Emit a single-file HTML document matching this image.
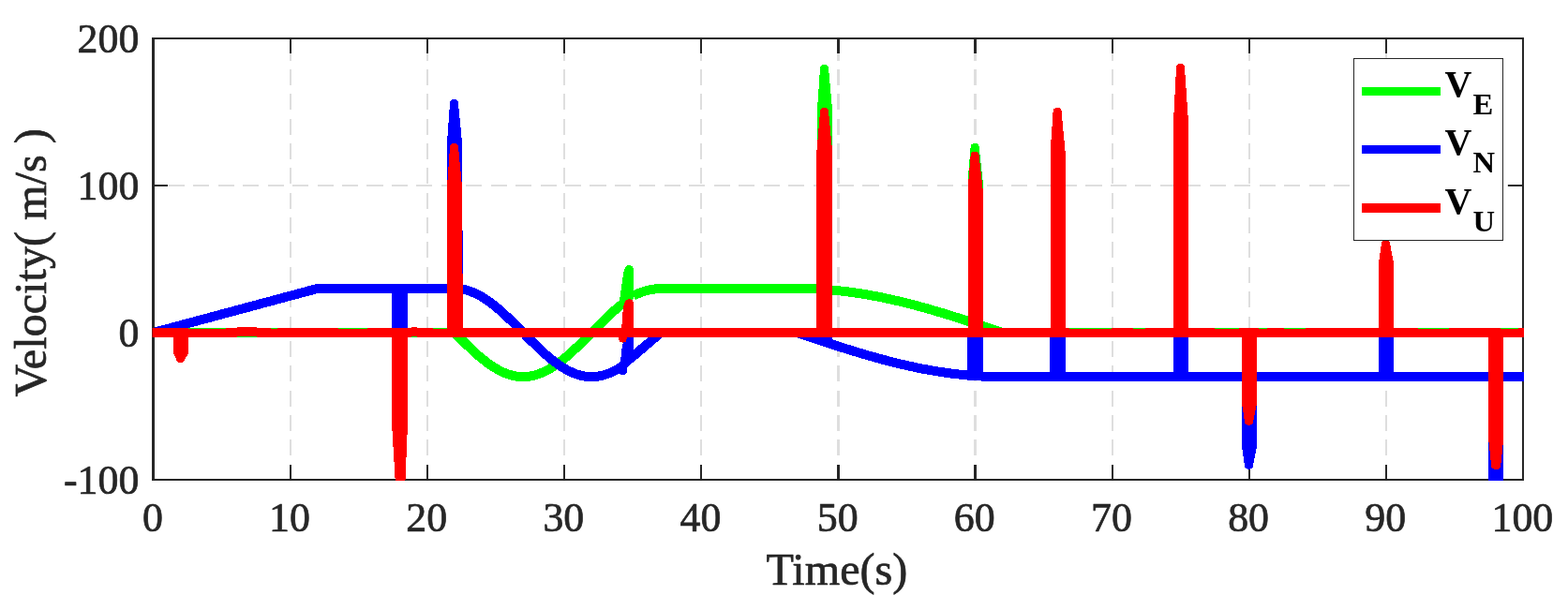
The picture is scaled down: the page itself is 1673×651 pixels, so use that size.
<!DOCTYPE html>
<html lang="en">
<head>
<meta charset="utf-8">
<title>Velocity vs Time</title>
<style>
html,body{margin:0;padding:0;background:#fff;}
body{width:1673px;height:651px;overflow:hidden;}
svg{display:block;}
</style>
</head>
<body>
<svg width="1673" height="651" viewBox="0 0 1673 651">
<defs><clipPath id="ax"><rect x="162.5" y="40" width="1463.5" height="473"/></clipPath></defs>
<rect x="0" y="0" width="1673" height="651" fill="#ffffff"/>
<g stroke="#dedede" fill="none" shape-rendering="crispEdges">
<path stroke-width="2" stroke-dasharray="17 9.37" d="M310 512.8 V41"/>
<path stroke-width="2" stroke-dasharray="17 9.37" d="M456 512.8 V41"/>
<path stroke-width="2" stroke-dasharray="17 9.37" d="M602 512.8 V41"/>
<path stroke-width="2" stroke-dasharray="17 9.37" d="M748 512.8 V41"/>
<path stroke-width="3" stroke-dasharray="17 9.37" d="M894.5 512.8 V41"/>
<path stroke-width="3" stroke-dasharray="17 9.37" d="M1040.5 512.8 V41"/>
<path stroke-width="2" stroke-dasharray="17 9.37" d="M1187 512.8 V41"/>
<path stroke-width="2" stroke-dasharray="17 9.37" d="M1333 512.8 V41"/>
<path stroke-width="2" stroke-dasharray="17 9.37" d="M1479 512.8 V41"/>
<path stroke-width="2" stroke-dasharray="17.1 9.35" stroke-dashoffset="11.65" d="M165 198 H1624"/>
<path stroke-width="2" stroke-dasharray="17.1 9.35" stroke-dashoffset="11.65" d="M165 355 H1624"/>
</g>
<g fill="#262626" shape-rendering="crispEdges">
<rect x="162" y="40" width="3" height="473"/>
<rect x="1624" y="40" width="2" height="473"/>
<rect x="162" y="40" width="1464" height="2"/>
<rect x="162" y="511" width="1464" height="2"/>
<rect x="309" y="496" width="2" height="15"/>
<rect x="309" y="42" width="2" height="15"/>
<rect x="455" y="496" width="2" height="15"/>
<rect x="455" y="42" width="2" height="15"/>
<rect x="601" y="496" width="2" height="15"/>
<rect x="601" y="42" width="2" height="15"/>
<rect x="747" y="496" width="2" height="15"/>
<rect x="747" y="42" width="2" height="15"/>
<rect x="893" y="496" width="3" height="15"/>
<rect x="893" y="42" width="3" height="15"/>
<rect x="1039" y="496" width="3" height="15"/>
<rect x="1039" y="42" width="3" height="15"/>
<rect x="1186" y="496" width="2" height="15"/>
<rect x="1186" y="42" width="2" height="15"/>
<rect x="1332" y="496" width="2" height="15"/>
<rect x="1332" y="42" width="2" height="15"/>
<rect x="1478" y="496" width="2" height="15"/>
<rect x="1478" y="42" width="2" height="15"/>
<rect x="165" y="197" width="14" height="2"/>
<rect x="1609" y="197" width="15" height="2"/>
<rect x="165" y="354" width="14" height="2"/>
<rect x="1609" y="354" width="15" height="2"/>
</g>
<g clip-path="url(#ax)" shape-rendering="crispEdges">
<g fill="none" stroke="#00ff00" stroke-width="10" stroke-linejoin="round">
<path d="M163.5 355 L164.96 355 L166.42 355 L167.88 355 L169.35 355 L170.81 355 L172.27 355 L173.73 355 L175.19 355 L176.65 355 L178.12 355 L179.58 355 L181.04 355 L182.5 355 L183.96 355 L185.42 355 L186.88 355 L188.35 355 L189.81 355 L191.27 355 L192.73 355 L194.19 355 L195.65 355 L197.11 355 L198.58 355 L200.04 355 L201.5 355 L202.96 355 L204.42 355 L205.88 355 L207.34 355 L208.81 355 L210.27 355 L211.73 355 L213.19 355 L214.65 355 L216.11 355 L217.58 355 L219.04 355 L220.5 355 L221.96 355 L223.42 355 L224.88 355 L226.34 355 L227.81 355 L229.27 355 L230.73 355 L232.19 355 L233.65 355 L235.11 355 L236.57 355 L238.04 355 L239.5 355 L240.96 355 L242.42 355 L243.88 355 L245.34 355 L246.81 355 L248.27 355 L249.73 355 L251.19 355 L252.65 355 L254.11 355 L255.57 355 L257.04 355 L258.5 355 L259.96 355 L261.42 355 L262.88 355 L264.34 355 L265.81 355 L267.27 355 L268.73 355 L270.19 355 L271.65 355 L273.11 355 L274.57 355 L276.04 355 L277.5 355 L278.96 355 L280.42 355 L281.88 355 L283.34 355 L284.8 355 L286.27 355 L287.73 355 L289.19 355 L290.65 355 L292.11 355 L293.57 355 L295.03 355 L296.5 355 L297.96 355 L299.42 355 L300.88 355 L302.34 355 L303.8 355 L305.27 355 L306.73 355 L308.19 355 L309.65 355 L311.11 355 L312.57 355 L314.03 355 L315.5 355 L316.96 355 L318.42 355 L319.88 355 L321.34 355 L322.8 355 L324.26 355 L325.73 355 L327.19 355 L328.65 355 L330.11 355 L331.57 355 L333.03 355 L334.5 355 L335.96 355 L337.42 355 L338.88 355 L340.34 355 L341.8 355 L343.26 355 L344.73 355 L346.19 355 L347.65 355 L349.11 355 L350.57 355 L352.03 355 L353.5 355 L354.96 355 L356.42 355 L357.88 355 L359.34 355 L360.8 355 L362.26 355 L363.73 355 L365.19 355 L366.65 355 L368.11 355 L369.57 355 L371.03 355 L372.49 355 L373.96 355 L375.42 355 L376.88 355 L378.34 355 L379.8 355 L381.26 355 L382.73 355 L384.19 355 L385.65 355 L387.11 355 L388.57 355 L390.03 355 L391.49 355 L392.96 355 L394.42 355 L395.88 355 L397.34 355 L398.8 355 L400.26 355 L401.72 355 L403.19 355 L404.65 355 L406.11 355 L407.57 355 L409.03 355 L410.49 355 L411.95 355 L413.42 355 L414.88 355 L416.34 355 L417.8 355 L419.26 355 L420.72 355 L422.19 355 L423.65 355 L425.11 355 L426.57 355 L428.03 355 L429.49 355 L430.95 355 L432.42 355 L433.88 355 L435.34 355 L436.8 355 L438.26 355 L439.72 355 L441.18 355 L442.65 355 L444.11 355 L445.57 355 L447.03 355 L448.49 355 L449.95 355 L451.42 355 L452.88 355 L454.34 355 L455.8 355 L457.26 355 L458.72 355 L460.18 355 L461.65 355 L463.11 355 L464.57 355 L466.03 355 L467.49 355 L468.95 355 L470.41 355 L471.88 355 L473.34 355 L474.8 355 L476.26 355 L477.72 355 L479.18 355 L480.65 355 L482.11 355 L483.57 355 L485.03 355 L486.49 356.48 L487.95 357.96 L489.41 359.43 L490.88 360.9 L492.34 362.37 L493.8 363.83 L495.26 365.27 L496.72 366.71 L498.18 368.14 L499.64 369.55 L501.11 370.95 L502.57 372.34 L504.03 373.71 L505.49 375.05 L506.95 376.38 L508.41 377.69 L509.88 378.98 L511.34 380.24 L512.8 381.47 L514.26 382.68 L515.72 383.87 L517.18 385.02 L518.64 386.15 L520.11 387.24 L521.57 388.3 L523.03 389.33 L524.49 390.33 L525.95 391.29 L527.41 392.22 L528.88 393.1 L530.34 393.96 L531.8 394.77 L533.26 395.54 L534.72 396.27 L536.18 396.97 L537.64 397.62 L539.11 398.23 L540.57 398.79 L542.03 399.32 L543.49 399.79 L544.95 400.23 L546.41 400.62 L547.87 400.97 L549.34 401.27 L550.8 401.52 L552.26 401.73 L553.72 401.89 L555.18 402.01 L556.64 402.08 L558.11 402.1 L559.57 402.08 L561.03 402.01 L562.49 401.89 L563.95 401.73 L565.41 401.52 L566.87 401.27 L568.34 400.97 L569.8 400.62 L571.26 400.23 L572.72 399.79 L574.18 399.32 L575.64 398.79 L577.1 398.23 L578.57 397.62 L580.03 396.97 L581.49 396.27 L582.95 395.54 L584.41 394.77 L585.87 393.96 L587.34 393.1 L588.8 392.22 L590.26 391.29 L591.72 390.33 L593.18 389.33 L594.64 388.3 L596.1 387.24 L597.57 386.15 L599.03 385.02 L600.49 383.87 L601.95 382.68 L603.41 381.47 L604.87 380.24 L606.33 378.98 L607.8 377.69 L609.26 376.38 L610.72 375.05 L612.18 373.71 L613.64 372.34 L615.1 370.95 L616.57 369.55 L618.03 368.14 L619.49 366.71 L620.95 365.27 L622.41 363.83 L623.87 362.37 L625.33 360.9 L626.8 359.43 L628.26 357.96 L629.72 356.48 L631.18 355 L632.64 353.52 L634.1 352.04 L635.56 350.57 L637.03 349.1 L638.49 347.63 L639.95 346.17 L641.41 344.73 L642.87 343.29 L644.33 341.86 L645.79 340.45 L647.26 339.05 L648.72 337.66 L650.18 336.29 L651.64 334.95 L653.1 333.62 L654.56 332.31 L656.03 331.02 L657.49 329.76 L658.95 328.53 L660.41 327.32 L661.87 326.13 L663.33 324.98 L664.79 323.85 L665.53 322.81"/>
<path d="M675.76 315.75 L676.58 315.32 L677.4 314.91 L678.22 314.51 L679.04 314.13 L679.87 313.75 L680.69 313.39 L681.51 313.04 L682.33 312.7 L683.15 312.38 L683.98 312.07 L684.8 311.77 L685.62 311.48 L686.44 311.21 L687.27 310.94 L688.09 310.69 L688.91 310.45 L689.73 310.22 L690.55 310.01 L691.38 309.8 L692.2 309.61 L693.02 309.43 L693.84 309.25 L694.66 309.09 L695.49 308.95 L696.31 308.81 L697.13 308.68 L697.95 308.56 L698.77 308.46 L699.6 308.36 L700.42 308.27 L701.24 308.19 L702.06 308.13 L702.88 308.07 L703.71 308.02 L704.53 307.98 L705.35 307.95 L706.17 307.93 L707 307.91 L707.82 307.9 L708.64 307.9 L708.64 307.9 L710.1 307.9 L711.56 307.9 L713.02 307.9 L714.48 307.9 L715.94 307.9 L717.39 307.9 L718.85 307.9 L720.31 307.9 L721.77 307.9 L723.23 307.9 L724.69 307.9 L726.15 307.9 L727.61 307.9 L729.07 307.9 L730.53 307.9 L731.99 307.9 L733.45 307.9 L734.9 307.9 L736.36 307.9 L737.82 307.9 L739.28 307.9 L740.74 307.9 L742.2 307.9 L743.66 307.9 L745.12 307.9 L746.58 307.9 L748.04 307.9 L749.5 307.9 L750.96 307.9 L752.41 307.9 L753.87 307.9 L755.33 307.9 L756.79 307.9 L758.25 307.9 L759.71 307.9 L761.17 307.9 L762.63 307.9 L764.09 307.9 L765.55 307.9 L767.01 307.9 L768.47 307.9 L769.93 307.9 L771.38 307.9 L772.84 307.9 L774.3 307.9 L775.76 307.9 L777.22 307.9 L778.68 307.9 L780.14 307.9 L781.6 307.9 L783.06 307.9 L784.52 307.9 L785.98 307.9 L787.44 307.9 L788.89 307.9 L790.35 307.9 L791.81 307.9 L793.27 307.9 L794.73 307.9 L796.19 307.9 L797.65 307.9 L799.11 307.9 L800.57 307.9 L802.03 307.9 L803.49 307.9 L804.95 307.9 L806.4 307.9 L807.86 307.9 L809.32 307.9 L810.78 307.9 L812.24 307.9 L813.7 307.9 L815.16 307.9 L816.62 307.9 L818.08 307.9 L819.54 307.9 L821 307.9 L822.46 307.9 L823.91 307.9 L825.37 307.9 L826.83 307.9 L828.29 307.9 L829.75 307.9 L831.21 307.9 L832.67 307.9 L834.13 307.9 L835.59 307.9 L837.05 307.9 L838.51 307.9 L839.97 307.9 L841.42 307.9 L842.88 307.9 L844.34 307.9 L845.8 307.9 L847.26 307.9 L848.72 307.9 L850.18 307.9 L851.64 307.9 L853.1 307.91 L854.56 307.92 L856.02 307.94 L857.48 307.96 L858.94 307.99 L860.39 308.02 L861.85 308.06 L863.31 308.1 L864.77 308.15 L866.23 308.2 L867.69 308.26 L869.15 308.32 L870.61 308.39 L872.07 308.47 L873.53 308.54 L874.99 308.63 L876.45 308.72 L877.9 308.81 L879.36 308.91 L880.82 309.01 L882.28 309.12 L883.74 309.24 L885.2 309.36 L886.66 309.48 L888.12 309.61 L889.58 309.74 L891.04 309.88 L892.5 310.03 L893.96 310.17 L895.41 310.33 L896.87 310.49 L898.33 310.65 L899.79 310.82 L901.25 310.99 L902.71 311.17 L904.17 311.35 L905.63 311.54 L907.09 311.73 L908.55 311.93 L910.01 312.13 L911.47 312.34 L912.92 312.55 L914.38 312.76 L915.84 312.98 L917.3 313.21 L918.76 313.44 L920.22 313.67 L921.68 313.91 L923.14 314.15 L924.6 314.4 L926.06 314.65 L927.52 314.91 L928.98 315.17 L930.43 315.43 L931.89 315.7 L933.35 315.98 L934.81 316.25 L936.27 316.54 L937.73 316.82 L939.19 317.11 L940.65 317.41 L942.11 317.71 L943.57 318.01 L945.03 318.32 L946.49 318.63 L947.95 318.94 L949.4 319.26 L950.86 319.58 L952.32 319.91 L953.78 320.24 L955.24 320.58 L956.7 320.91 L958.16 321.25 L959.62 321.6 L961.08 321.95 L962.54 322.3 L964 322.66 L965.46 323.02 L966.91 323.38 L968.37 323.75 L969.83 324.12 L971.29 324.49 L972.75 324.87 L974.21 325.25 L975.67 325.63 L977.13 326.02 L978.59 326.41 L980.05 326.8 L981.51 327.2 L982.97 327.6 L984.42 328 L985.88 328.4 L987.34 328.81 L988.8 329.22 L990.26 329.64 L991.72 330.05 L993.18 330.47 L994.64 330.89 L996.1 331.32 L997.56 331.74 L999.02 332.17 L1000.48 332.6 L1001.93 333.04 L1003.39 333.48 L1004.85 333.92 L1006.31 334.36 L1007.77 334.8 L1009.23 335.25 L1010.69 335.69 L1012.15 336.14 L1013.61 336.6 L1015.07 337.05 L1016.53 337.51 L1017.99 337.97 L1019.44 338.43 L1020.9 338.89 L1022.36 339.35 L1023.82 339.82 L1025.28 340.28 L1026.74 340.75 L1028.2 341.22 L1029.66 341.69 L1031.12 342.17 L1032.58 342.64 L1034.04 343.12 L1035.5 343.59 L1036.96 344.07 L1038.41 344.55 L1039.87 345.03 L1041.33 345.52 L1042.79 346 L1044.25 346.48 L1045.71 346.97 L1047.17 347.45 L1048.63 347.94 L1050.09 348.43 L1051.55 348.91 L1053.01 349.4 L1054.47 349.89 L1055.92 350.38 L1057.38 350.87 L1058.84 351.36 L1060.3 351.85 L1061.76 352.35 L1063.22 352.84 L1064.68 353.33 L1066.14 353.82 L1067.6 354.31 L1069.06 354.81 L1070.52 355 L1071.98 355 L1073.43 355 L1074.89 355 L1076.35 355 L1077.81 355 L1079.27 355 L1080.73 355 L1082.19 355 L1083.65 355 L1085.11 355 L1086.57 355 L1088.03 355 L1089.49 355 L1090.94 355 L1092.4 355 L1093.86 355 L1095.32 355 L1096.78 355 L1098.24 355 L1099.7 355 L1101.16 355 L1102.62 355 L1104.08 355 L1105.54 355 L1107 355 L1108.45 355 L1109.91 355 L1111.37 355 L1112.83 355 L1114.29 355 L1115.75 355 L1117.21 355 L1118.67 355 L1120.13 355 L1121.59 355 L1123.05 355 L1124.51 355 L1125.97 355 L1127.42 355 L1128.88 355 L1130.34 355 L1131.8 355 L1133.26 355 L1134.72 355 L1136.18 355 L1137.64 355 L1139.1 355 L1140.56 355 L1142.02 355 L1143.48 355 L1144.93 355 L1146.39 355 L1147.85 355 L1149.31 355 L1150.77 355 L1152.23 355 L1153.69 355 L1155.15 355 L1156.61 355 L1158.07 355 L1159.53 355 L1160.99 355 L1162.44 355 L1163.9 355 L1165.36 355 L1166.82 355 L1168.28 355 L1169.74 355 L1171.2 355 L1172.66 355 L1174.12 355 L1175.58 355 L1177.04 355 L1178.5 355 L1179.95 355 L1181.41 355 L1182.87 355 L1184.33 355 L1185.79 355 L1187.25 355 L1188.71 355 L1190.17 355 L1191.63 355 L1193.09 355 L1194.55 355 L1196.01 355 L1197.46 355 L1198.92 355 L1200.38 355 L1201.84 355 L1203.3 355 L1204.76 355 L1206.22 355 L1207.68 355 L1209.14 355 L1210.6 355 L1212.06 355 L1213.52 355 L1214.98 355 L1216.43 355 L1217.89 355 L1219.35 355 L1220.81 355 L1222.27 355 L1223.73 355 L1225.19 355 L1226.65 355 L1228.11 355 L1229.57 355 L1231.03 355 L1232.49 355 L1233.94 355 L1235.4 355 L1236.86 355 L1238.32 355 L1239.78 355 L1241.24 355 L1242.7 355 L1244.16 355 L1245.62 355 L1247.08 355 L1248.54 355 L1250 355 L1251.45 355 L1252.91 355 L1254.37 355 L1255.83 355 L1257.29 355 L1258.75 355 L1260.21 355 L1261.67 355 L1263.13 355 L1264.59 355 L1266.05 355 L1267.51 355 L1268.96 355 L1270.42 355 L1271.88 355 L1273.34 355 L1274.8 355 L1276.26 355 L1277.72 355 L1279.18 355 L1280.64 355 L1282.1 355 L1283.56 355 L1285.02 355 L1286.47 355 L1287.93 355 L1289.39 355 L1290.85 355 L1292.31 355 L1293.77 355 L1295.23 355 L1296.69 355 L1298.15 355 L1299.61 355 L1301.07 355 L1302.53 355 L1303.99 355 L1305.44 355 L1306.9 355 L1308.36 355 L1309.82 355 L1311.28 355 L1312.74 355 L1314.2 355 L1315.66 355 L1317.12 355 L1318.58 355 L1320.04 355 L1321.5 355 L1322.95 355 L1324.41 355 L1325.87 355 L1327.33 355 L1328.79 355 L1330.25 355 L1331.71 355 L1333.17 355 L1334.63 355 L1336.09 355 L1337.55 355 L1339.01 355 L1340.46 355 L1341.92 355 L1343.38 355 L1344.84 355 L1346.3 355 L1347.76 355 L1349.22 355 L1350.68 355 L1352.14 355 L1353.6 355 L1355.06 355 L1356.52 355 L1357.97 355 L1359.43 355 L1360.89 355 L1362.35 355 L1363.81 355 L1365.27 355 L1366.73 355 L1368.19 355 L1369.65 355 L1371.11 355 L1372.57 355 L1374.03 355 L1375.48 355 L1376.94 355 L1378.4 355 L1379.86 355 L1381.32 355 L1382.78 355 L1384.24 355 L1385.7 355 L1387.16 355 L1388.62 355 L1390.08 355 L1391.54 355 L1392.99 355 L1394.45 355 L1395.91 355 L1397.37 355 L1398.83 355 L1400.29 355 L1401.75 355 L1403.21 355 L1404.67 355 L1406.13 355 L1407.59 355 L1409.05 355 L1410.51 355 L1411.96 355 L1413.42 355 L1414.88 355 L1416.34 355 L1417.8 355 L1419.26 355 L1420.72 355 L1422.18 355 L1423.64 355 L1425.1 355 L1426.56 355 L1428.02 355 L1429.47 355 L1430.93 355 L1432.39 355 L1433.85 355 L1435.31 355 L1436.77 355 L1438.23 355 L1439.69 355 L1441.15 355 L1442.61 355 L1444.07 355 L1445.53 355 L1446.98 355 L1448.44 355 L1449.9 355 L1451.36 355 L1452.82 355 L1454.28 355 L1455.74 355 L1457.2 355 L1458.66 355 L1460.12 355 L1461.58 355 L1463.04 355 L1464.49 355 L1465.95 355 L1467.41 355 L1468.87 355 L1470.33 355 L1471.79 355 L1473.25 355 L1474.71 355 L1476.17 355 L1477.63 355 L1479.09 355 L1480.55 355 L1482 355 L1483.46 355 L1484.92 355 L1486.38 355 L1487.84 355 L1489.3 355 L1490.76 355 L1492.22 355 L1493.68 355 L1495.14 355 L1496.6 355 L1498.06 355 L1499.52 355 L1500.97 355 L1502.43 355 L1503.89 355 L1505.35 355 L1506.81 355 L1508.27 355 L1509.73 355 L1511.19 355 L1512.65 355 L1514.11 355 L1515.57 355 L1517.03 355 L1518.48 355 L1519.94 355 L1521.4 355 L1522.86 355 L1524.32 355 L1525.78 355 L1527.24 355 L1528.7 355 L1530.16 355 L1531.62 355 L1533.08 355 L1534.54 355 L1535.99 355 L1537.45 355 L1538.91 355 L1540.37 355 L1541.83 355 L1543.29 355 L1544.75 355 L1546.21 355 L1547.67 355 L1549.13 355 L1550.59 355 L1552.05 355 L1553.5 355 L1554.96 355 L1556.42 355 L1557.88 355 L1559.34 355 L1560.8 355 L1562.26 355 L1563.72 355 L1565.18 355 L1566.64 355 L1568.1 355 L1569.56 355 L1571.01 355 L1572.47 355 L1573.93 355 L1575.39 355 L1576.85 355 L1578.31 355 L1579.77 355 L1581.23 355 L1582.69 355 L1584.15 355 L1585.61 355 L1587.07 355 L1588.53 355 L1589.98 355 L1591.44 355 L1592.9 355 L1594.36 355 L1595.82 355 L1597.28 355 L1598.74 355 L1600.2 355 L1601.66 355 L1603.12 355 L1604.58 355 L1606.04 355 L1607.49 355 L1608.95 355 L1610.41 355 L1611.87 355 L1613.33 355 L1614.79 355 L1616.25 355 L1617.71 355 L1619.17 355 L1620.63 355 L1622.09 355 L1623.55 355 L1625 355 L1626.46 355 L1627.92 355"/>
</g>
<g fill="#00ff00">
<path d="M660.6 323 L664 300 Q665.5 283 671 283 Q676 283 676 289 L676 318 L664 330Z"/>
<path d="M872 312.9 L872 116.6 L875.1 71.8 C875.1 70.04 877.52 68.6 879.5 68.6 C881.48 68.6 883.9 70.04 883.9 71.8 L888 116.6 L888 312.9Z"/>
<path d="M1032.6 355 L1032.6 192.8 L1035.7 156 C1035.7 154.24 1038.12 152.8 1040.1 152.8 C1042.08 152.8 1044.5 154.24 1044.5 156 L1048.6 192.8 L1048.6 355Z"/>
</g>
<g fill="none" stroke="#0000ff" stroke-width="10" stroke-linejoin="round">
<path d="M163.5 355 L164.96 354.61 L166.42 354.21 L167.88 353.82 L169.35 353.43 L170.81 353.04 L172.27 352.64 L173.73 352.25 L175.19 351.86 L176.65 351.47 L178.12 351.07 L179.58 350.68 L181.04 350.29 L182.5 349.9 L183.96 349.5 L185.42 349.11 L186.88 348.72 L188.35 348.33 L189.81 347.94 L191.27 347.54 L192.73 347.15 L194.19 346.76 L195.65 346.37 L197.11 345.97 L198.58 345.58 L200.04 345.19 L201.5 344.8 L202.96 344.4 L204.42 344.01 L205.88 343.62 L207.34 343.23 L208.81 342.83 L210.27 342.44 L211.73 342.05 L213.19 341.65 L214.65 341.26 L216.11 340.87 L217.58 340.48 L219.04 340.08 L220.5 339.69 L221.96 339.3 L223.42 338.91 L224.88 338.51 L226.34 338.12 L227.81 337.73 L229.27 337.34 L230.73 336.94 L232.19 336.55 L233.65 336.16 L235.11 335.77 L236.57 335.38 L238.04 334.98 L239.5 334.59 L240.96 334.2 L242.42 333.81 L243.88 333.41 L245.34 333.02 L246.81 332.63 L248.27 332.24 L249.73 331.84 L251.19 331.45 L252.65 331.06 L254.11 330.67 L255.57 330.27 L257.04 329.88 L258.5 329.49 L259.96 329.1 L261.42 328.7 L262.88 328.31 L264.34 327.92 L265.81 327.52 L267.27 327.13 L268.73 326.74 L270.19 326.35 L271.65 325.95 L273.11 325.56 L274.57 325.17 L276.04 324.78 L277.5 324.38 L278.96 323.99 L280.42 323.6 L281.88 323.21 L283.34 322.81 L284.8 322.42 L286.27 322.03 L287.73 321.64 L289.19 321.25 L290.65 320.85 L292.11 320.46 L293.57 320.07 L295.03 319.68 L296.5 319.28 L297.96 318.89 L299.42 318.5 L300.88 318.11 L302.34 317.71 L303.8 317.32 L305.27 316.93 L306.73 316.54 L308.19 316.14 L309.65 315.75 L311.11 315.36 L312.57 314.96 L314.03 314.57 L315.5 314.18 L316.96 313.79 L318.42 313.39 L319.88 313 L321.34 312.61 L322.8 312.22 L324.26 311.82 L325.73 311.43 L327.19 311.04 L328.65 310.65 L330.11 310.25 L331.57 309.86 L333.03 309.47 L334.5 309.08 L335.96 308.69 L337.42 308.29 L338.88 307.9 L340.34 307.9 L341.8 307.9 L343.26 307.9 L344.73 307.9 L346.19 307.9 L347.65 307.9 L349.11 307.9 L350.57 307.9 L352.03 307.9 L353.5 307.9 L354.96 307.9 L356.42 307.9 L357.88 307.9 L359.34 307.9 L360.8 307.9 L362.26 307.9 L363.73 307.9 L365.19 307.9 L366.65 307.9 L368.11 307.9 L369.57 307.9 L371.03 307.9 L372.49 307.9 L373.96 307.9 L375.42 307.9 L376.88 307.9 L378.34 307.9 L379.8 307.9 L381.26 307.9 L382.73 307.9 L384.19 307.9 L385.65 307.9 L387.11 307.9 L388.57 307.9 L390.03 307.9 L391.49 307.9 L392.96 307.9 L394.42 307.9 L395.88 307.9 L397.34 307.9 L398.8 307.9 L400.26 307.9 L401.72 307.9 L403.19 307.9 L404.65 307.9 L406.11 307.9 L407.57 307.9 L409.03 307.9 L410.49 307.9 L411.95 307.9 L413.42 307.9 L414.88 307.9 L416.34 307.9 L417.8 307.9 L419.26 307.9 L420.72 307.9 L422.19 307.9 L423.65 307.9 L425.11 307.9 L426.57 307.9 L428.03 307.9 L429.49 307.9 L430.95 307.9 L432.42 307.9 L433.88 307.9 L435.34 307.9 L436.8 307.9 L438.26 307.9 L439.72 307.9 L441.18 307.9 L442.65 307.9 L444.11 307.9 L445.57 307.9 L447.03 307.9 L448.49 307.9 L449.95 307.9 L451.42 307.9 L452.88 307.9 L454.34 307.9 L455.8 307.9 L457.26 307.9 L458.72 307.9 L460.18 307.9 L461.65 307.9 L463.11 307.9 L464.57 307.9 L466.03 307.9 L467.49 307.9 L468.95 307.9 L470.41 307.9 L471.88 307.9 L473.34 307.9 L474.8 307.9 L476.26 307.9 L477.72 307.9 L479.18 307.9 L480.65 307.9 L482.11 307.9 L483.57 307.9 L485.03 307.9 L486.49 307.92 L487.95 307.99 L489.41 308.11 L490.88 308.27 L492.34 308.48 L493.8 308.73 L495.26 309.03 L496.72 309.38 L498.18 309.77 L499.64 310.21 L501.11 310.68 L502.57 311.21 L504.03 311.77 L505.49 312.38 L506.95 313.03 L508.41 313.73 L509.88 314.46 L511.34 315.23 L512.8 316.04 L514.26 316.9 L515.72 317.78 L517.18 318.71 L518.64 319.67 L520.11 320.67 L521.57 321.7 L523.03 322.76 L524.49 323.85 L525.95 324.98 L527.41 326.13 L528.88 327.32 L530.34 328.53 L531.8 329.76 L533.26 331.02 L534.72 332.31 L536.18 333.62 L537.64 334.95 L539.11 336.29 L540.57 337.66 L542.03 339.05 L543.49 340.45 L544.95 341.86 L546.41 343.29 L547.87 344.73 L549.34 346.17 L550.8 347.63 L552.26 349.1 L553.72 350.57 L555.18 352.04 L556.64 353.52 L558.11 355 L559.57 356.48 L561.03 357.96 L562.49 359.43 L563.95 360.9 L565.41 362.37 L566.87 363.83 L568.34 365.27 L569.8 366.71 L571.26 368.14 L572.72 369.55 L574.18 370.95 L575.64 372.34 L577.1 373.71 L578.57 375.05 L580.03 376.38 L581.49 377.69 L582.95 378.98 L584.41 380.24 L585.87 381.47 L587.34 382.68 L588.8 383.87 L590.26 385.02 L591.72 386.15 L593.18 387.24 L594.64 388.3 L596.1 389.33 L597.57 390.33 L599.03 391.29 L600.49 392.22 L601.95 393.1 L603.41 393.96 L604.87 394.77 L606.33 395.54 L607.8 396.27 L609.26 396.97 L610.72 397.62 L612.18 398.23 L613.64 398.79 L615.1 399.32 L616.57 399.79 L618.03 400.23 L619.49 400.62 L620.95 400.97 L622.41 401.27 L623.87 401.52 L625.33 401.73 L626.8 401.89 L628.26 402.01 L629.72 402.08 L631.18 402.1 L632.64 402.08 L634.1 402.01 L635.56 401.89 L637.03 401.73 L638.49 401.52 L639.95 401.27 L641.41 400.97 L642.87 400.62 L644.33 400.23 L645.79 399.79 L647.26 399.32 L648.72 398.79 L650.18 398.23 L651.64 397.62 L653.1 396.97 L654.56 396.27 L656.03 395.54 L657.49 394.77 L658.95 393.96 L660.41 393.1 L661.87 392.22 L663.33 391.29 L664.79 390.33"/>
<path d="M668 386.2 L676 379.8 L704.99 355 L705.72 355 L707.18 355 L708.64 355 L710.1 355 L711.56 355 L713.02 355 L714.49 355 L715.95 355 L717.41 355 L718.87 355 L720.33 355 L721.79 355 L723.25 355 L724.72 355 L726.18 355 L727.64 355 L729.1 355 L730.56 355 L732.02 355 L733.49 355 L734.95 355 L736.41 355 L737.87 355 L739.33 355 L740.79 355 L742.25 355 L743.72 355 L745.18 355 L746.64 355 L748.1 355 L749.56 355 L751.02 355 L752.48 355 L753.95 355 L755.41 355 L756.87 355 L758.33 355 L759.79 355 L761.25 355 L762.72 355 L764.18 355 L765.64 355 L767.1 355 L768.56 355 L770.02 355 L771.48 355 L772.95 355 L774.41 355 L775.87 355 L777.33 355 L778.79 355 L780.25 355 L781.71 355 L783.18 355 L784.64 355 L786.1 355 L787.56 355 L789.02 355 L790.48 355 L791.95 355 L793.41 355 L794.87 355 L796.33 355 L797.79 355 L799.25 355 L800.71 355 L802.18 355 L803.64 355 L805.1 355 L806.56 355 L808.02 355 L809.48 355 L810.94 355 L812.41 355 L813.87 355 L815.33 355 L816.79 355 L818.25 355 L819.71 355 L821.17 355 L822.64 355 L824.1 355 L825.56 355 L827.02 355 L828.48 355 L829.94 355 L831.41 355 L832.87 355 L834.33 355 L835.79 355 L837.25 355 L838.71 355 L840.17 355 L841.64 355 L843.1 355 L844.56 355 L846.02 355 L847.48 355 L848.94 355 L850.4 355 L851.87 355.49 L853.33 355.99 L854.79 356.48 L856.25 356.97 L857.71 357.47 L859.17 357.96 L860.64 358.45 L862.1 358.94 L863.56 359.43 L865.02 359.92 L866.48 360.41 L867.94 360.9 L869.4 361.39 L870.87 361.88 L872.33 362.37 L873.79 362.85 L875.25 363.34 L876.71 363.83 L878.17 364.31 L879.63 364.79 L881.1 365.27 L882.56 365.76 L884.02 366.23 L885.48 366.71 L886.94 367.19 L888.4 367.67 L889.87 368.14 L891.33 368.61 L892.79 369.08 L894.25 369.55 L895.71 370.02 L897.17 370.49 L898.63 370.95 L900.1 371.42 L901.56 371.88 L903.02 372.34 L904.48 372.8 L905.94 373.25 L907.4 373.71 L908.87 374.16 L910.33 374.61 L911.79 375.05 L913.25 375.5 L914.71 375.94 L916.17 376.38 L917.63 376.82 L919.1 377.26 L920.56 377.69 L922.02 378.12 L923.48 378.55 L924.94 378.98 L926.4 379.4 L927.86 379.82 L929.33 380.24 L930.79 380.65 L932.25 381.06 L933.71 381.47 L935.17 381.88 L936.63 382.28 L938.1 382.68 L939.56 383.08 L941.02 383.48 L942.48 383.87 L943.94 384.26 L945.4 384.64 L946.86 385.02 L948.33 385.4 L949.79 385.78 L951.25 386.15 L952.71 386.52 L954.17 386.88 L955.63 387.24 L957.09 387.6 L958.56 387.95 L960.02 388.3 L961.48 388.65 L962.94 388.99 L964.4 389.33 L965.86 389.67 L967.33 390 L968.79 390.33 L970.25 390.65 L971.71 390.97 L973.17 391.29 L974.63 391.6 L976.09 391.91 L977.56 392.22 L979.02 392.52 L980.48 392.81 L981.94 393.1 L983.4 393.39 L984.86 393.68 L986.32 393.96 L987.79 394.23 L989.25 394.5 L990.71 394.77 L992.17 395.03 L993.63 395.29 L995.09 395.54 L996.55 395.79 L998.02 396.03 L999.48 396.27 L1000.94 396.51 L1002.4 396.74 L1003.86 396.97 L1005.32 397.19 L1006.79 397.41 L1008.25 397.62 L1009.71 397.83 L1011.17 398.03 L1012.63 398.23 L1014.09 398.42 L1015.55 398.61 L1017.02 398.79 L1018.48 398.97 L1019.94 399.15 L1021.4 399.32 L1022.86 399.48 L1024.32 399.64 L1025.78 399.79 L1027.25 399.94 L1028.71 400.09 L1030.17 400.23 L1031.63 400.36 L1033.09 400.5 L1034.55 400.62 L1036.02 400.74 L1037.48 400.86 L1038.94 400.97 L1040.4 401.07 L1041.86 401.17 L1043.32 401.27 L1044.78 401.36 L1046.25 401.44 L1047.71 401.52 L1049.17 401.59 L1050.63 401.66 L1052.09 401.73 L1053.55 401.79 L1055.01 401.84 L1056.48 401.89 L1057.94 401.93 L1059.4 401.97 L1060.86 402.01 L1062.32 402.04 L1063.78 402.06 L1065.25 402.08 L1066.71 402.09 L1068.17 402.1 L1069.63 402.1 L1071.09 402.1 L1072.55 402.1 L1074.01 402.1 L1075.48 402.1 L1076.94 402.1 L1078.4 402.1 L1079.86 402.1 L1081.32 402.1 L1082.78 402.1 L1084.24 402.1 L1085.71 402.1 L1087.17 402.1 L1088.63 402.1 L1090.09 402.1 L1091.55 402.1 L1093.01 402.1 L1094.48 402.1 L1095.94 402.1 L1097.4 402.1 L1098.86 402.1 L1100.32 402.1 L1101.78 402.1 L1103.24 402.1 L1104.71 402.1 L1106.17 402.1 L1107.63 402.1 L1109.09 402.1 L1110.55 402.1 L1112.01 402.1 L1113.47 402.1 L1114.94 402.1 L1116.4 402.1 L1117.86 402.1 L1119.32 402.1 L1120.78 402.1 L1122.24 402.1 L1123.71 402.1 L1125.17 402.1 L1126.63 402.1 L1128.09 402.1 L1129.55 402.1 L1131.01 402.1 L1132.47 402.1 L1133.94 402.1 L1135.4 402.1 L1136.86 402.1 L1138.32 402.1 L1139.78 402.1 L1141.24 402.1 L1142.7 402.1 L1144.17 402.1 L1145.63 402.1 L1147.09 402.1 L1148.55 402.1 L1150.01 402.1 L1151.47 402.1 L1152.94 402.1 L1154.4 402.1 L1155.86 402.1 L1157.32 402.1 L1158.78 402.1 L1160.24 402.1 L1161.7 402.1 L1163.17 402.1 L1164.63 402.1 L1166.09 402.1 L1167.55 402.1 L1169.01 402.1 L1170.47 402.1 L1171.93 402.1 L1173.4 402.1 L1174.86 402.1 L1176.32 402.1 L1177.78 402.1 L1179.24 402.1 L1180.7 402.1 L1182.17 402.1 L1183.63 402.1 L1185.09 402.1 L1186.55 402.1 L1188.01 402.1 L1189.47 402.1 L1190.93 402.1 L1192.4 402.1 L1193.86 402.1 L1195.32 402.1 L1196.78 402.1 L1198.24 402.1 L1199.7 402.1 L1201.16 402.1 L1202.63 402.1 L1204.09 402.1 L1205.55 402.1 L1207.01 402.1 L1208.47 402.1 L1209.93 402.1 L1211.4 402.1 L1212.86 402.1 L1214.32 402.1 L1215.78 402.1 L1217.24 402.1 L1218.7 402.1 L1220.16 402.1 L1221.63 402.1 L1223.09 402.1 L1224.55 402.1 L1226.01 402.1 L1227.47 402.1 L1228.93 402.1 L1230.39 402.1 L1231.86 402.1 L1233.32 402.1 L1234.78 402.1 L1236.24 402.1 L1237.7 402.1 L1239.16 402.1 L1240.63 402.1 L1242.09 402.1 L1243.55 402.1 L1245.01 402.1 L1246.47 402.1 L1247.93 402.1 L1249.39 402.1 L1250.86 402.1 L1252.32 402.1 L1253.78 402.1 L1255.24 402.1 L1256.7 402.1 L1258.16 402.1 L1259.62 402.1 L1261.09 402.1 L1262.55 402.1 L1264.01 402.1 L1265.47 402.1 L1266.93 402.1 L1268.39 402.1 L1269.86 402.1 L1271.32 402.1 L1272.78 402.1 L1274.24 402.1 L1275.7 402.1 L1277.16 402.1 L1278.62 402.1 L1280.09 402.1 L1281.55 402.1 L1283.01 402.1 L1284.47 402.1 L1285.93 402.1 L1287.39 402.1 L1288.86 402.1 L1290.32 402.1 L1291.78 402.1 L1293.24 402.1 L1294.7 402.1 L1296.16 402.1 L1297.62 402.1 L1299.09 402.1 L1300.55 402.1 L1302.01 402.1 L1303.47 402.1 L1304.93 402.1 L1306.39 402.1 L1307.85 402.1 L1309.32 402.1 L1310.78 402.1 L1312.24 402.1 L1313.7 402.1 L1315.16 402.1 L1316.62 402.1 L1318.09 402.1 L1319.55 402.1 L1321.01 402.1 L1322.47 402.1 L1323.93 402.1 L1325.39 402.1 L1326.85 402.1 L1328.32 402.1 L1329.78 402.1 L1331.24 402.1 L1332.7 402.1 L1334.16 402.1 L1335.62 402.1 L1337.08 402.1 L1338.55 402.1 L1340.01 402.1 L1341.47 402.1 L1342.93 402.1 L1344.39 402.1 L1345.85 402.1 L1347.32 402.1 L1348.78 402.1 L1350.24 402.1 L1351.7 402.1 L1353.16 402.1 L1354.62 402.1 L1356.08 402.1 L1357.55 402.1 L1359.01 402.1 L1360.47 402.1 L1361.93 402.1 L1363.39 402.1 L1364.85 402.1 L1366.31 402.1 L1367.78 402.1 L1369.24 402.1 L1370.7 402.1 L1372.16 402.1 L1373.62 402.1 L1375.08 402.1 L1376.55 402.1 L1378.01 402.1 L1379.47 402.1 L1380.93 402.1 L1382.39 402.1 L1383.85 402.1 L1385.31 402.1 L1386.78 402.1 L1388.24 402.1 L1389.7 402.1 L1391.16 402.1 L1392.62 402.1 L1394.08 402.1 L1395.54 402.1 L1397.01 402.1 L1398.47 402.1 L1399.93 402.1 L1401.39 402.1 L1402.85 402.1 L1404.31 402.1 L1405.78 402.1 L1407.24 402.1 L1408.7 402.1 L1410.16 402.1 L1411.62 402.1 L1413.08 402.1 L1414.54 402.1 L1416.01 402.1 L1417.47 402.1 L1418.93 402.1 L1420.39 402.1 L1421.85 402.1 L1423.31 402.1 L1424.77 402.1 L1426.24 402.1 L1427.7 402.1 L1429.16 402.1 L1430.62 402.1 L1432.08 402.1 L1433.54 402.1 L1435.01 402.1 L1436.47 402.1 L1437.93 402.1 L1439.39 402.1 L1440.85 402.1 L1442.31 402.1 L1443.77 402.1 L1445.24 402.1 L1446.7 402.1 L1448.16 402.1 L1449.62 402.1 L1451.08 402.1 L1452.54 402.1 L1454 402.1 L1455.47 402.1 L1456.93 402.1 L1458.39 402.1 L1459.85 402.1 L1461.31 402.1 L1462.77 402.1 L1464.23 402.1 L1465.7 402.1 L1467.16 402.1 L1468.62 402.1 L1470.08 402.1 L1471.54 402.1 L1473 402.1 L1474.47 402.1 L1475.93 402.1 L1477.39 402.1 L1478.85 402.1 L1480.31 402.1 L1481.77 402.1 L1483.23 402.1 L1484.7 402.1 L1486.16 402.1 L1487.62 402.1 L1489.08 402.1 L1490.54 402.1 L1492 402.1 L1493.46 402.1 L1494.93 402.1 L1496.39 402.1 L1497.85 402.1 L1499.31 402.1 L1500.77 402.1 L1502.23 402.1 L1503.7 402.1 L1505.16 402.1 L1506.62 402.1 L1508.08 402.1 L1509.54 402.1 L1511 402.1 L1512.46 402.1 L1513.93 402.1 L1515.39 402.1 L1516.85 402.1 L1518.31 402.1 L1519.77 402.1 L1521.23 402.1 L1522.69 402.1 L1524.16 402.1 L1525.62 402.1 L1527.08 402.1 L1528.54 402.1 L1530 402.1 L1531.46 402.1 L1532.93 402.1 L1534.39 402.1 L1535.85 402.1 L1537.31 402.1 L1538.77 402.1 L1540.23 402.1 L1541.69 402.1 L1543.16 402.1 L1544.62 402.1 L1546.08 402.1 L1547.54 402.1 L1549 402.1 L1550.46 402.1 L1551.92 402.1 L1553.39 402.1 L1554.85 402.1 L1556.31 402.1 L1557.77 402.1 L1559.23 402.1 L1560.69 402.1 L1562.16 402.1 L1563.62 402.1 L1565.08 402.1 L1566.54 402.1 L1568 402.1 L1569.46 402.1 L1570.92 402.1 L1572.39 402.1 L1573.85 402.1 L1575.31 402.1 L1576.77 402.1 L1578.23 402.1 L1579.69 402.1 L1581.15 402.1 L1582.62 402.1 L1584.08 402.1 L1585.54 402.1 L1587 402.1 L1588.46 402.1 L1589.92 402.1 L1591.39 402.1 L1592.85 402.1 L1594.31 402.1 L1595.77 402.1 L1597.23 402.1 L1598.69 402.1 L1600.15 402.1 L1601.62 402.1 L1603.08 402.1 L1604.54 402.1 L1606 402.1 L1607.46 402.1 L1608.92 402.1 L1610.38 402.1 L1611.85 402.1 L1613.31 402.1 L1614.77 402.1 L1616.23 402.1 L1617.69 402.1 L1619.15 402.1 L1620.62 402.1 L1622.08 402.1 L1623.54 402.1 L1625 402.1 L1626.46 402.1 L1627.92 402.1"/>
</g>
<g fill="#0000ff">
<path d="M418 302.9 H435 V360 H418Z"/>
<path d="M477 312.9 L477 151.9 L480.1 109.1 C480.1 107.34 482.52 105.9 484.5 105.9 C486.48 105.9 488.9 107.34 488.9 109.1 L493 151.9 L493 312.9Z"/>
<path d="M477 360 H494 V246 H477Z"/>
<path d="M671 350 L676.2 350 L676.2 384 L669.5 392 L669 398 Q664.5 403 660.5 398 L662 385 L664 368Z"/>
<path d="M871.8 359 H888.2 V363.5 H871.8Z"/>
<path d="M1032.3 350 H1048.9 V406.1 H1032.3Z"/>
<path d="M1120.3 350 H1136.9 V407.1 H1120.3Z"/>
<path d="M1252 350 H1268 V407.1 H1252Z"/>
<path d="M1325 350 L1325 476.7 L1328.1 497.5 C1328.1 499.26 1330.52 500.7 1332.5 500.7 C1334.48 500.7 1336.9 499.26 1336.9 497.5 L1341 476.7 L1341 350Z"/>
<path d="M1471 350 H1487 V407.1 H1471Z"/>
<path d="M1588.2 350 L1588.2 520 L1591.3 596.8 C1591.3 598.56 1593.72 600 1595.7 600 C1597.68 600 1600.1 598.56 1600.1 596.8 L1604.2 520 L1604.2 350Z"/>
</g>
<g fill="none" stroke="#ff0000" stroke-width="10">
<path d="M162.04 355 L1627.92 355"/>
</g>
<g fill="#ff0000">
<path d="M185.1 355 L185.1 377.3 L188.1 383.3 C188.1 385.5 190.57 387.3 192.6 387.3 C194.62 387.3 197.1 385.5 197.1 383.3 L201.1 377.3 L201.1 355Z"/>
<path d="M418 355 L418 452 L423.1 536 C423.1 538.2 425.41 540 427.3 540 C429.19 540 431.5 538.2 431.5 536 L435 452 L435 355Z"/>
<path d="M477 355 L477 198.8 L480.1 156 C480.1 154.24 482.52 152.8 484.5 152.8 C486.48 152.8 488.9 154.24 488.9 156 L493 198.8 L493 355Z"/>
<path d="M477 292 H494 V360 H477Z"/>
<path d="M663 352 L664.6 332 Q666 319 671 319 Q676.1 319 676.1 325 L676.1 360 L668.6 360 L668.6 361.5 Q668.6 365.6 664.4 365.6 Q660.2 365.6 660.2 361.5 L660.2 352Z"/>
<path d="M871.4 355 L871.4 161.8 L875.1 118 C875.1 116.24 877.52 114.8 879.5 114.8 C881.48 114.8 883.9 116.24 883.9 118 L888.2 161.8 L888.2 355Z"/>
<path d="M1032.6 355 L1032.6 201.7 L1035.7 164.9 C1035.7 163.14 1038.12 161.7 1040.1 161.7 C1042.08 161.7 1044.5 163.14 1044.5 164.9 L1048.6 201.7 L1048.6 355Z"/>
<path d="M1120.6 355 L1120.6 161.8 L1123.7 118 C1123.7 116.24 1126.12 114.8 1128.1 114.8 C1130.08 114.8 1132.5 116.24 1132.5 118 L1136.6 161.8 L1136.6 355Z"/>
<path d="M1252 355 L1252 129.9 L1255.1 71.1 C1255.1 69.34 1257.52 67.9 1259.5 67.9 C1261.48 67.9 1263.9 69.34 1263.9 71.1 L1268 129.9 L1268 355Z"/>
<path d="M1325 355 L1325 430.8 L1328.1 450.6 C1328.1 452.36 1330.52 453.8 1332.5 453.8 C1334.48 453.8 1336.9 452.36 1336.9 450.6 L1341 430.8 L1341 355Z"/>
<path d="M1471 355 L1471 281 L1474.1 259.2 C1474.1 257.44 1476.52 256 1478.5 256 C1480.48 256 1482.9 257.44 1482.9 259.2 L1487 281 L1487 355Z"/>
<path d="M1588.2 355 L1588.2 469.2 L1591.3 498 C1591.3 499.76 1594 501.2 1596.2 501.2 C1598.4 501.2 1601.1 499.76 1601.1 498 L1604.2 469.2 L1604.2 355Z"/>
<rect x="253" y="349" width="20.6" height="1"/>
<rect x="438.7" y="349" width="6" height="1"/>
</g>
<g fill="#00ff00">
<rect x="200.7" y="350" width="40.3" height="1"/>
<rect x="289" y="350" width="7" height="1"/>
<rect x="361" y="350" width="31" height="1"/>
<rect x="462" y="350" width="15" height="1"/>
<rect x="1140.5" y="350" width="45.5" height="1"/>
<rect x="1209" y="350" width="12.6" height="1"/>
<rect x="1295.6" y="350" width="26.4" height="1"/>
<rect x="1343" y="350" width="9" height="1"/>
<rect x="1369.7" y="350" width="22.9" height="1"/>
<rect x="1512.5" y="350" width="33.5" height="1"/>
<rect x="1600.6" y="350" width="19.4" height="1"/>
<rect x="253" y="359" width="20.6" height="1"/>
<rect x="438.7" y="359" width="6" height="1"/>
</g>
</g>
<rect x="1444.5" y="62.5" width="159" height="194" fill="#ffffff" stroke="#262626" stroke-width="1"/>
<rect x="1453" y="93" width="84" height="9" fill="#00ff00" shape-rendering="crispEdges"/>
<text x="1541.6" y="103.1" font-family="'Liberation Serif', serif" font-weight="bold" font-size="40" fill="#000">V<tspan font-size="32.6" dx="1" dy="19">E</tspan></text>
<rect x="1453" y="155" width="84" height="9" fill="#0000ff" shape-rendering="crispEdges"/>
<text x="1541.6" y="165.1" font-family="'Liberation Serif', serif" font-weight="bold" font-size="40" fill="#000">V<tspan font-size="32.6" dx="1" dy="19">N</tspan></text>
<rect x="1453" y="217" width="84" height="10" fill="#ff0000" shape-rendering="crispEdges"/>
<text x="1541.6" y="228.1" font-family="'Liberation Serif', serif" font-weight="bold" font-size="40" fill="#000">V<tspan font-size="32.6" dx="1" dy="19">U</tspan></text>
<g font-family="'Liberation Serif', serif" font-size="43.9" fill="#262626" stroke="#262626" stroke-width="0.7" stroke-linejoin="round">
<text x="162.9" y="567" text-anchor="middle">0</text>
<text x="309.05" y="567" text-anchor="middle">10</text>
<text x="455.2" y="567" text-anchor="middle">20</text>
<text x="601.35" y="567" text-anchor="middle">30</text>
<text x="747.5" y="567" text-anchor="middle">40</text>
<text x="893.65" y="567" text-anchor="middle">50</text>
<text x="1039.8" y="567" text-anchor="middle">60</text>
<text x="1185.95" y="567" text-anchor="middle">70</text>
<text x="1332.1" y="567" text-anchor="middle">80</text>
<text x="1478.25" y="567" text-anchor="middle">90</text>
<text x="1624.4" y="567" text-anchor="middle">100</text>
<text x="148.4" y="56.2" text-anchor="end">200</text>
<text x="148.4" y="213.2" text-anchor="end">100</text>
<text x="148.4" y="370.2" text-anchor="end">0</text>
<text x="148.4" y="527.2" text-anchor="end">-100</text>
</g>
<g font-family="'Liberation Serif', serif" font-size="48.2" fill="#262626" stroke="#262626" stroke-width="0.7" stroke-linejoin="round">
<text x="893" y="624" text-anchor="middle">Time(s)</text>
<text transform="translate(48.6 280.4) rotate(-90)" text-anchor="middle" xml:space="preserve">Velocity( m/s )</text>
</g>
</svg>
</body>
</html>
